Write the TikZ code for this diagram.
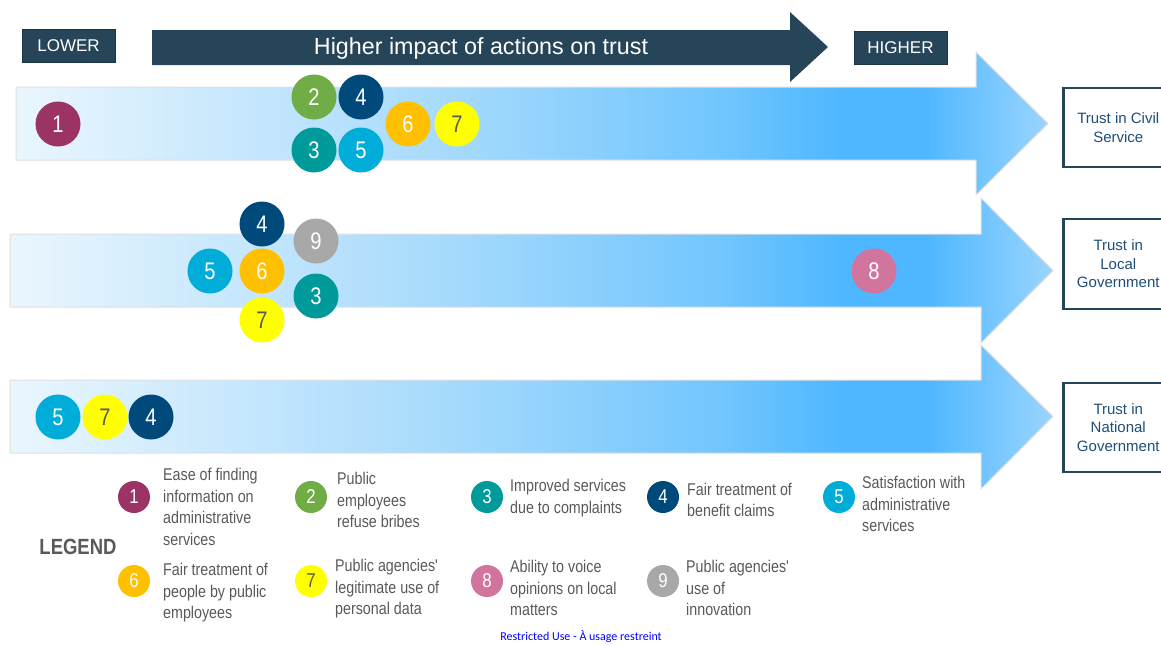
\documentclass[tikz,border=0pt]{standalone}
\usepackage{fontspec}
\setmainfont{Liberation Sans}
\newfontfamily\narrowfont[FakeStretch=0.84]{Liberation Sans}
\newfontfamily\footfont{Carlito}

\definecolor{headnavy}{HTML}{264559}
\definecolor{headedge}{HTML}{1B3444}
\definecolor{boxtext}{HTML}{1F4E79}
\definecolor{keygray}{HTML}{595959}
\definecolor{bandA}{HTML}{EAF6FE}
\definecolor{bandB}{HTML}{A6DAFC}
\definecolor{bandC}{HTML}{72C6FE}
\definecolor{bandD}{HTML}{4FB7FF}
\definecolor{bandE}{HTML}{9AD5FF}
\definecolor{cOne}{HTML}{9B3464}
\definecolor{cTwo}{HTML}{70AD46}
\definecolor{cThree}{HTML}{009A9A}
\definecolor{cFour}{HTML}{004A7B}
\definecolor{cFive}{HTML}{00ADD8}
\definecolor{cSix}{HTML}{FFC000}
\definecolor{cSeven}{HTML}{FFFF00}
\definecolor{cEight}{HTML}{D1759F}
\definecolor{cNine}{HTML}{A8A8A8}

\pgfdeclarehorizontalshading{trustband}{100bp}{color(0bp)=(bandA); color(25bp)=(bandA);
  color(46bp)=(bandB); color(59bp)=(bandC); color(65bp)=(bandD); color(69bp)=(bandD);
  color(75bp)=(bandE); color(100bp)=(bandE)}

\tikzset{
  band/.style={shading=trustband, draw=black!12, line width=1pt},
  tag/.style={draw=headedge, line width=1pt, fill=headnavy, text=white, font=\fontsize{17}{20}\selectfont,
    minimum width=93pt, minimum height=33pt, inner sep=0pt},
  dot/.style={circle, fill=#1, minimum size=45pt, inner sep=0pt, text=white,
    font=\narrowfont\fontsize{24}{24}\selectfont},
  key/.style={circle, fill=#1, minimum size=32pt, inner sep=0pt, text=white,
    font=\narrowfont\fontsize{20}{20}\selectfont},
  keytext/.style={anchor=west, inner sep=0pt, align=left, text=keygray,
    font=\narrowfont\fontsize{17}{21.5}\selectfont},
  target/.style={draw=headnavy, line width=2.5pt, fill=white, text=boxtext, align=center,
    minimum width=110pt, anchor=west, inner sep=0pt, font=\fontsize{15}{18.5}\selectfont}
}

\begin{document}
\begin{tikzpicture}[x=1pt, y=-1pt]
  \useasboundingbox (0,0) rectangle (1161,645);
  \clip (0,0) rectangle (1161,645);

  % direction arrow on top
  \fill[headnavy] (152,30) -- (790,30) -- (790,12) -- (828,47) -- (790,82) -- (790,65) -- (152,65) -- cycle;
  \node[text=white, font=\fontsize{23.3}{23.3}\selectfont] (impact) at (481,48) {Higher impact of actions on trust};
  \node[tag] (lower) at (68.5,45.5) {LOWER};
  \node[tag] (higher) at (900.5,48) {HIGHER};

  % the three bands
  \path[band] (16,87) -- (976,87) -- (976,52) -- (1048,123.5) -- (976,195) -- (976,160) -- (16,160) -- cycle;
  \path[band] (10,234) -- (981,234) -- (981,198) -- (1053,270.5) -- (981,343) -- (981,307) -- (10,307) -- cycle;
  \path[band] (10,380) -- (981,380) -- (981,345) -- (1053,416.5) -- (981,489) -- (981,453) -- (10,453) -- cycle;

  % outcomes
  \node[target, minimum height=79pt] (civil) at (1062,127.5) {Trust in Civil\\Service};
  \node[target, minimum height=90pt] (local) at (1062,264) {Trust in\\Local\\Government};
  \node[target, minimum height=89pt] (national) at (1062,427.5) {Trust in\\National\\Government};

  % civil service band
  \foreach \n/\x/\y/\c in {1/58/124/cOne, 2/314/97/cTwo, 4/361/97/cFour, 3/314/150/cThree,
                           5/361/150/cFive, 6/408/124/cSix}
    \node[dot=\c] (cs\n) at (\x,\y) {\n};
  \node[dot=cSeven, text=keygray] (cs7) at (457,124) {7};

  % local government band
  \foreach \n/\x/\y/\c in {4/262/224/cFour, 9/316/241/cNine, 5/210/271/cFive, 6/262/271/cSix,
                           3/316/296/cThree, 8/874/271/cEight}
    \node[dot=\c] (lg\n) at (\x,\y) {\n};
  \node[dot=cSeven, text=keygray] (lg7) at (262,320) {7};

  % national government band
  \node[dot=cFive] (ng5) at (58,417) {5};
  \node[dot=cSeven, text=keygray] (ng7) at (105,417) {7};
  \node[dot=cFour] (ng4) at (151,417) {4};

  % legend
  \node[text=keygray, font=\bfseries\narrowfont\fontsize{22}{22}\selectfont] (legend) at (78,547) {LEGEND};
  \foreach \n/\x/\y/\c/\tx/\ty/\t in {
      1/134/497/cOne/163/507/{Ease of finding\\information on\\administrative\\services},
      2/311/497/cTwo/337/500/{Public\\employees\\refuse bribes},
      3/487/497/cThree/510/498/{Improved services\\due to complaints},
      4/663/497/cFour/687/500/{Fair treatment of\\benefit claims},
      5/839/497/cFive/862/504/{Satisfaction with\\administrative\\services},
      6/134/581/cSix/163/593/{Fair treatment of\\people by public\\employees},
      8/487/581/cEight/510/588/{Ability to voice\\opinions on local\\matters},
      9/663/581/cNine/686/588/{Public agencies'\\use of\\innovation}}
  {
    \node[key=\c] (k\n) at (\x,\y) {\n};
    \node[keytext] (kt\n) at (\tx,\ty) {\t};
  }
  \node[key=cSeven, text=keygray] (k7) at (311,581) {7};
  \node[keytext] (kt7) at (335,589) {Public agencies'\\legitimate use of\\personal data};

  \node[text=blue, font=\footfont\fontsize{12}{12}\selectfont] (footer) at (581,637) {Restricted Use - À usage restreint};
\end{tikzpicture}
\end{document}
